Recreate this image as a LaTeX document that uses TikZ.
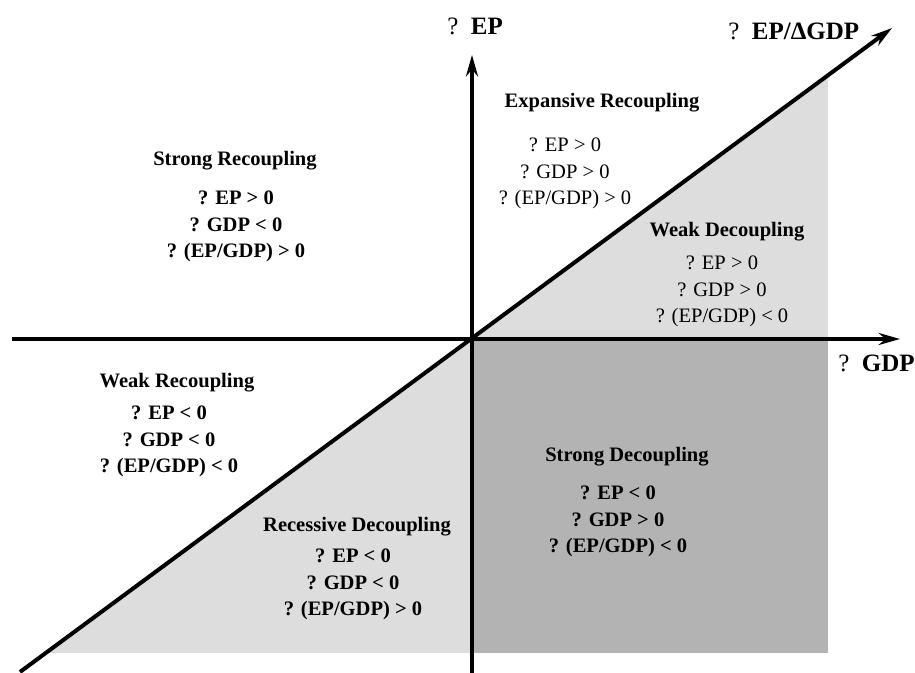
\documentclass[tikz,border=0pt]{standalone}
\usepackage{fontspec}
\setmainfont{Liberation Serif}
\usepackage{tikz}
\usetikzlibrary{arrows.meta}

\definecolor{lightzone}{HTML}{DDDDDD}
\definecolor{darkzone}{HTML}{B3B3B3}

\tikzset{
  axis/.style={line width=3pt, -{Stealth[length=16pt, width=9pt]}},
  title/.style={font=\bfseries\fontsize{15.4}{19.5}\selectfont, inner sep=0pt, anchor=base},
  cond/.style={font=\fontsize{15.4}{19.8}\selectfont, align=center, inner sep=0pt, anchor=north},
  boldcond/.style={cond, font=\bfseries\fontsize{15.4}{19.8}\selectfont},
  axlabel/.style={font=\fontsize{18.75}{22}\selectfont, inner sep=0pt, anchor=base west}
}

\begin{document}
\begin{tikzpicture}[x=0.75pt, y=-0.75pt]
\useasboundingbox (0,0) rectangle (915,673);

% key points of the plane
\coordinate (O) at (472,339);
\coordinate (wEnd) at (12,339);
\coordinate (eEnd) at (900,339);
\coordinate (sEnd) at (472,673);
\coordinate (nEnd) at (472,55);
\coordinate (swEnd) at (20,672);
\coordinate (neEnd) at (892,28);

% shaded zones
\fill[lightzone] (O) -- (828,75) -- (828,339) -- cycle;
\fill[lightzone] (O) -- (47,653) -- (472,653) -- cycle;
\fill[darkzone] (O) rectangle (828,653);

% axes
\draw[axis] (wEnd) -- (eEnd);
\draw[axis] (sEnd) -- (nEnd);
\draw[axis] (swEnd) -- (neEnd);

\node[axlabel] (epLab) at (447,35) {?\enspace\textbf{EP}};
\node[axlabel] (ratioLab) at (728,40) {?\enspace\textbf{EP/ΔGDP}};
\node[axlabel] (gdpLab) at (838,372) {?\enspace\textbf{GDP}};

% the six states
\node[title] (srHead) at (235,166) {Strong Recoupling};
\node[boldcond] (srCond) at (236,191) {? EP > 0\\? GDP < 0\\? (EP/GDP) > 0};

\node[title] (erHead) at (602,108) {Expansive Recoupling};
\node[cond] (erCond) at (565,138) {? EP > 0\\? GDP > 0\\? (EP/GDP) > 0};

\node[title] (wdHead) at (727,237) {Weak Decoupling};
\node[cond] (wdCond) at (722,256) {? EP > 0\\? GDP > 0\\? (EP/GDP) < 0};

\node[title] (wrHead) at (177,388) {Weak Recoupling};
\node[boldcond] (wrCond) at (169,406) {? EP < 0\\? GDP < 0\\? (EP/GDP) < 0};

\node[title] (sdHead) at (627,462) {Strong Decoupling};
\node[boldcond] (sdCond) at (618,486) {? EP < 0\\? GDP > 0\\? (EP/GDP) < 0};

\node[title] (rdHead) at (357,532) {Recessive Decoupling};
\node[boldcond] (rdCond) at (353,549) {? EP < 0\\? GDP < 0\\? (EP/GDP) > 0};
\end{tikzpicture}
\end{document}
